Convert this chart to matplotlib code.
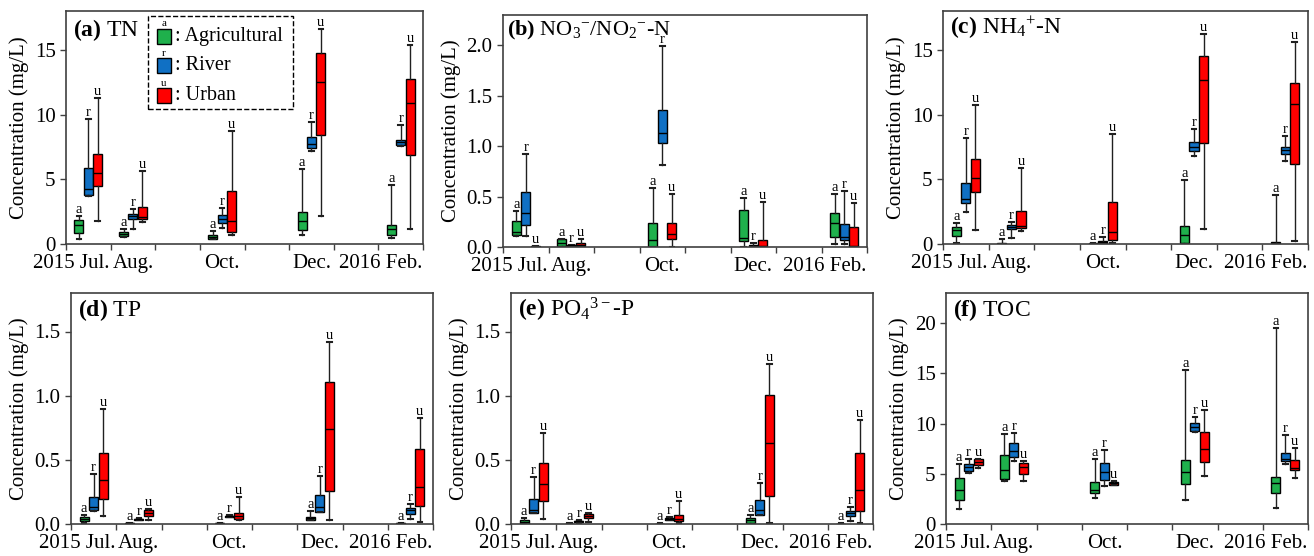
import numpy as np
import matplotlib.pyplot as plt
from matplotlib.patches import Rectangle

plt.rcParams['font.family'] = ['Liberation Serif', 'DejaVu Serif']
plt.rcParams['mathtext.fontset'] = 'custom'
plt.rcParams['mathtext.rm'] = 'Liberation Serif'
plt.rcParams['mathtext.it'] = 'Liberation Serif:italic'
plt.rcParams['mathtext.bf'] = 'Liberation Serif:bold'

# sampling months (Jan 2016 = 13, Feb 2016 = 14)
months = [7, 8, 10, 12, 14]
groups = ['Agricultural', 'River', 'Urban']
letters = ['a', 'r', 'u']
colors = ['#1fb04c', '#1070c4', '#ff0000']
month_labels = ['2015 Jul.', 'Aug.', 'Oct.', 'Dec.', '2016 Feb.']

# each entry: [whisker low, q1, median, q3, whisker high] for Jul, Aug, Oct, Dec, Feb
tn_agr = [[0.39, 0.88, 1.44, 1.83, 2.2], [0.54, 0.64, 0.8, 0.93, 1.13], [0.36, 0.41, 0.54, 0.72, 1.0],
          [0.67, 1.06, 1.75, 2.45, 5.82], [0.44, 0.67, 1.16, 1.44, 4.54]]
tn_riv = [[3.7, 3.76, 4.25, 5.88, 9.64], [1.16, 1.9, 2.16, 2.35, 2.68], [1.26, 1.6, 1.93, 2.24, 2.78],
          [7.19, 7.45, 7.76, 8.27, 9.41], [7.6, 7.62, 7.89, 8.07, 9.2]]
tn_urb = [[1.78, 4.46, 5.46, 6.98, 11.3], [1.7, 1.9, 2.06, 2.89, 5.62], [0.67, 0.93, 1.78, 4.07, 8.74],
          [2.14, 8.4, 12.5, 14.79, 16.62], [1.19, 6.86, 10.93, 12.71, 15.39]]

no3_agr = [[0.105, 0.122, 0.148, 0.253, 0.355], [0.0, 0.005, 0.04, 0.075, 0.076], [0.0, 0.0, 0.066, 0.24, 0.582],
           [0.0, 0.056, 0.092, 0.368, 0.484], [0.033, 0.095, 0.24, 0.336, 0.526]]
no3_riv = [[0.112, 0.22, 0.342, 0.543, 0.918], [0.005, 0.01, 0.015, 0.02, 0.023], [0.809, 1.033, 1.128, 1.355, 1.997],
           [0.0, 0.003, 0.01, 0.016, 0.043], [0.033, 0.066, 0.102, 0.23, 0.559]]
no3_urb = [[0.0, 0.002, 0.004, 0.008, 0.01], [0.005, 0.01, 0.023, 0.043, 0.075], [0.0, 0.082, 0.128, 0.234, 0.526],
           [0.0, 0.0, 0.013, 0.066, 0.447], [0.0, 0.0, 0.01, 0.2, 0.438]]

nh4_agr = [[0.1, 0.59, 1.11, 1.31, 1.65], [0.0, 0.01, 0.02, 0.05, 0.36], [0.0, 0.01, 0.02, 0.04, 0.05],
           [0.0, 0.08, 0.7, 1.39, 4.97], [0.0, 0.05, 0.1, 0.18, 3.79]]
nh4_riv = [[2.45, 3.14, 3.48, 4.74, 8.22], [0.49, 1.13, 1.34, 1.47, 1.7], [0.0, 0.05, 0.13, 0.23, 0.52],
           [6.8, 7.16, 7.5, 7.91, 8.85], [6.42, 6.96, 7.24, 7.5, 8.38]]
nh4_urb = [[1.06, 4.02, 5.1, 6.6, 10.7], [1.0, 1.24, 1.37, 2.53, 5.88], [0.05, 0.34, 0.95, 3.22, 8.53],
           [1.13, 7.78, 12.7, 14.56, 16.19], [0.26, 6.16, 10.85, 12.47, 15.57]]

tp_agr = [[0.008, 0.023, 0.039, 0.057, 0.073], [0.0, 0.002, 0.004, 0.006, 0.008], [0.002, 0.004, 0.006, 0.008, 0.01],
          [0.034, 0.034, 0.047, 0.057, 0.1], [0.0, 0.002, 0.004, 0.006, 0.008]]
tp_riv = [[0.104, 0.112, 0.132, 0.21, 0.389], [0.029, 0.031, 0.036, 0.042, 0.047], [0.052, 0.052, 0.06, 0.065, 0.073],
          [0.093, 0.093, 0.135, 0.223, 0.374], [0.039, 0.078, 0.106, 0.125, 0.153]]
tp_urb = [[0.065, 0.197, 0.343, 0.555, 0.9], [0.029, 0.06, 0.088, 0.106, 0.117], [0.029, 0.039, 0.062, 0.086, 0.21],
          [0.031, 0.257, 0.74, 1.108, 1.42], [0.018, 0.14, 0.29, 0.581, 0.828]]

po4_agr = [[0.0, 0.003, 0.016, 0.029, 0.049], [0.0, 0.001, 0.002, 0.003, 0.004], [0.0, 0.001, 0.002, 0.003, 0.004],
           [0.0, 0.008, 0.029, 0.044, 0.073], [0.0, 0.001, 0.002, 0.003, 0.004]]
po4_riv = [[0.083, 0.083, 0.112, 0.195, 0.363], [0.01, 0.013, 0.021, 0.026, 0.034], [0.034, 0.034, 0.042, 0.047, 0.052],
           [0.07, 0.07, 0.109, 0.187, 0.322], [0.026, 0.06, 0.083, 0.101, 0.135]]
po4_urb = [[0.039, 0.176, 0.309, 0.472, 0.711], [0.018, 0.044, 0.065, 0.08, 0.086], [0.01, 0.023, 0.042, 0.07, 0.182],
           [0.008, 0.218, 0.631, 1.002, 1.248], [0.008, 0.099, 0.265, 0.555, 0.807]]

toc_agr = [[1.5, 2.39, 3.36, 4.58, 5.98], [4.29, 4.49, 5.42, 6.91, 9.0], [2.56, 3.09, 3.42, 4.22, 6.51],
           [2.39, 3.99, 5.18, 6.38, 15.38], [1.56, 3.09, 4.09, 4.65, 19.47]]
toc_riv = [[5.05, 5.32, 5.68, 5.98, 6.48], [6.25, 6.68, 7.24, 8.07, 9.04], [3.79, 4.42, 5.18, 6.05, 7.38],
           [9.14, 9.27, 9.7, 10.07, 10.7], [5.95, 6.28, 6.51, 7.08, 8.87]]
toc_urb = [[5.55, 5.85, 6.21, 6.48, 6.48], [4.29, 4.98, 5.68, 6.11, 6.31], [3.85, 3.92, 4.05, 4.19, 4.25],
           [4.75, 6.18, 7.51, 9.2, 11.33], [4.62, 5.35, 5.58, 6.38, 7.57]]

# title, data, y max, y ticks, tick format, title x, title y, title size
panels = [
    (r'$\mathbf{(a)}$ TN', [tn_agr, tn_riv, tn_urb], 18, [0, 5, 10, 15], '%d', 0.02, 0.918, 17),
    (r'$\mathbf{(b)}$ NO$_3{}^{-}$/NO$_2{}^{-}$-N', [no3_agr, no3_riv, no3_urb], 2.3, [0, 0.5, 1.0, 1.5, 2.0], '%.1f',
     0.01, 0.935, 16),
    (r'$\mathbf{(c)}$ NH$_4{}^{+}$-N', [nh4_agr, nh4_riv, nh4_urb], 18, [0, 5, 10, 15], '%d', 0.02, 0.93, 17),
    (r'$\mathbf{(d)}$ TP', [tp_agr, tp_riv, tp_urb], 1.8, [0, 0.5, 1.0, 1.5], '%.1f', 0.02, 0.926, 17),
    (r'$\mathbf{(e)}$ PO$_4{}^{3-}$-P', [po4_agr, po4_riv, po4_urb], 1.8, [0, 0.5, 1.0, 1.5], '%.1f', 0.02, 0.926, 17),
    (r'$\mathbf{(f)}$ TOC', [toc_agr, toc_riv, toc_urb], 23, [0, 5, 10, 15, 20], '%d', 0.02, 0.926, 17),
]

# axes rectangles in pixels: left, top, right, bottom
W, H = 1314, 556
rects = [(66, 11, 423, 244), (503, 15, 867, 247), (943, 11, 1308, 244),
         (71, 293, 433, 524), (511, 293, 873, 524), (946, 293, 1308, 524)]

fig = plt.figure(figsize=(W / 100, H / 100), dpi=100)
offsets = [0.29, 0.5, 0.71]
frame = '#404040'

for (title, data, ymax, yticks, fmt, tx, ty, tsize), (l, t, r, b) in zip(panels, rects):
    ax = fig.add_axes([l / W, 1 - b / H, (r - l) / W, (b - t) / H])
    for g in range(3):
        stats = []
        for s in data[g]:
            stats.append({'whislo': s[0], 'q1': s[1], 'med': s[2], 'q3': s[3], 'whishi': s[4], 'fliers': []})
        pos = [m + offsets[g] for m in months]
        ax.bxp(stats, positions=pos, widths=0.2, capwidths=0.1, patch_artist=True, showfliers=False,
               manage_ticks=False,
               boxprops=dict(facecolor=colors[g], edgecolor='black', linewidth=1),
               medianprops=dict(color='black', linewidth=1),
               whiskerprops=dict(color='#202020', linewidth=1),
               capprops=dict(color='#202020', linewidth=1.5))
        for p, s in zip(pos, data[g]):
            ax.annotate(letters[g], (p, s[4]), xytext=(0, 0), textcoords='offset points',
                        ha='center', va='bottom', fontsize=10.5)
    ax.set_xlim(7, 15)
    ax.set_ylim(0, ymax)
    ax.set_xticks(np.arange(7, 16))
    ax.set_xticklabels([])
    ax.set_yticks(yticks)
    ax.set_yticklabels([fmt % v for v in yticks], fontsize=15)
    ax.tick_params(direction='out', length=4, width=1, color=frame)
    for sp in ax.spines.values():
        sp.set_color(frame)
        sp.set_linewidth(1.2)
    ax.set_ylabel('Concentration (mg/L)', fontsize=15, labelpad=4)
    ax.text(tx, ty, title, transform=ax.transAxes, fontsize=tsize, va='center', ha='left')
    tr = ax.get_xaxis_transform()
    ax.text(7.98, -0.045, month_labels[0], transform=tr, ha='right', va='top', fontsize=15)
    ax.text(8.5, -0.045, month_labels[1], transform=tr, ha='center', va='top', fontsize=15)
    ax.text(10.5, -0.045, month_labels[2], transform=tr, ha='center', va='top', fontsize=15)
    ax.text(12.5, -0.045, month_labels[3], transform=tr, ha='center', va='top', fontsize=15)
    ax.text(14.98, -0.045, month_labels[4], transform=tr, ha='right', va='top', fontsize=15)

    if title.endswith('TN'):
        # hand-drawn legend with dashed frame
        ax.add_patch(Rectangle((0.23, 0.581), 0.406, 0.398, transform=ax.transAxes, fill=False,
                               ls='--', lw=1, ec='black', zorder=5))
        ys = [0.891, 0.765, 0.637]
        for g in range(3):
            ax.add_patch(Rectangle((0.255, ys[g] - 0.032), 0.039, 0.064, transform=ax.transAxes,
                                   fc=colors[g], ec='black', lw=1, zorder=5))
            ax.text(0.2745, ys[g] + 0.034, letters[g], transform=ax.transAxes, ha='center', va='bottom',
                    fontsize=8)
            ax.text(0.305, ys[g], ': ' + groups[g], transform=ax.transAxes, ha='left', va='center',
                    fontsize=14.5)

fig.savefig('out.png', dpi=100)
